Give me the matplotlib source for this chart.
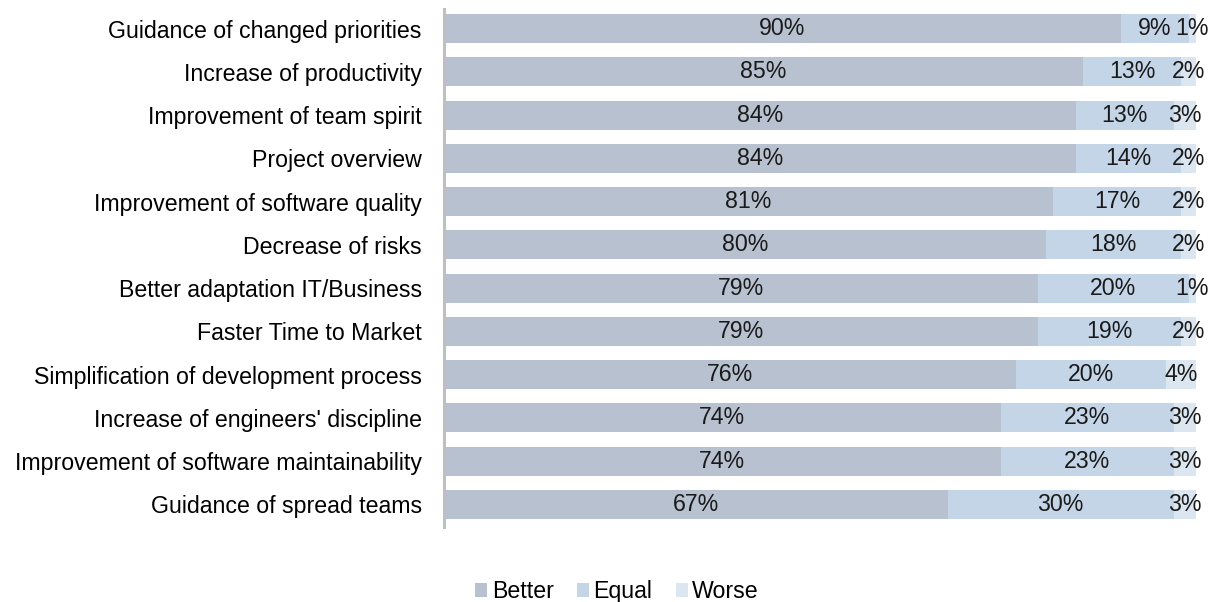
import matplotlib.pyplot as plt
import numpy as np

# ── Data ──────────────────────────────────────────────────────────────────────
categories = [
    "Guidance of changed priorities",
    "Increase of productivity",
    "Improvement of team spirit",
    "Project overview",
    "Improvement of software quality",
    "Decrease of risks",
    "Better adaptation IT/Business",
    "Faster Time to Market",
    "Simplification of development process",
    "Increase of engineers' discipline",
    "Improvement of software maintainability",
    "Guidance of spread teams",
]
better = [90, 85, 84, 84, 81, 80, 79, 79, 76, 74, 74, 67]
equal  = [9, 13, 13, 14, 17, 18, 20, 19, 20, 23, 23, 30]
worse  = [1, 2, 3, 2, 2, 2, 1, 2, 4, 3, 3, 3]

series_names = ["Better", "Equal", "Worse"]
colors = ["#B8C1D0", "#C5D5E8", "#DCE6F1"]

plt.rcParams.update({
    "font.family": ["Liberation Sans", "DejaVu Sans"],
    "font.size":   16.7,
})

fig = plt.figure(figsize=(12.17, 6.02), dpi=100)
ax = fig.add_axes([0.3648, 0.1246, 0.618, 0.8605])

y = np.arange(len(categories))
left = np.zeros(len(categories))
for name, vals, col in zip(series_names, [better, equal, worse], colors):
    vals = np.array(vals, dtype=float)
    ax.barh(y, vals, left=left, height=0.67, color=col, label=name)
    # percentage label centred in each segment
    for yi, l, v in zip(y, left, vals):
        ax.text(l + v / 2, yi, f"{v:.0f}%", ha="center", va="center",
                color="#1a1a1a")
    left += vals

ax.set_xlim(0, 100)
ax.set_ylim(len(categories) - 0.48, -0.455)
ax.set_yticks(y)
ax.set_yticklabels(categories)
ax.tick_params(axis="y", length=0, pad=16)
ax.set_xticks([])
for s in ["top", "right", "bottom"]:
    ax.spines[s].set_visible(False)
ax.spines["left"].set_color("#BFBFBF")
ax.spines["left"].set_linewidth(2.2)
ax.spines["left"].set_zorder(3)

fig.legend(loc="center", bbox_to_anchor=(0.507, 0.017), ncol=3, frameon=False,
           handlelength=0.52, handleheight=0.52, handletextpad=0.2,
           columnspacing=1.0)

fig.savefig("out.png", dpi=100)
